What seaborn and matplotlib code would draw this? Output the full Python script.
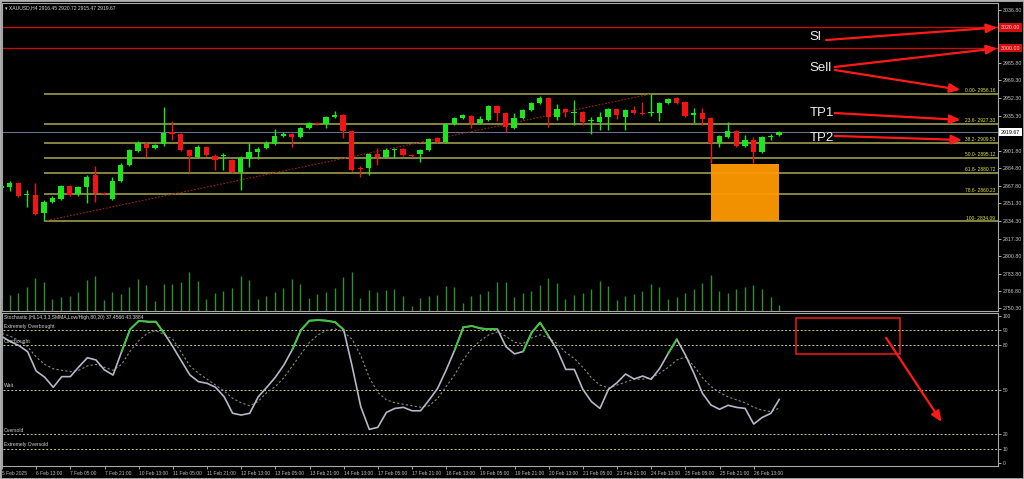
import numpy as np
import pandas as pd
import matplotlib
matplotlib.use("Agg")
import matplotlib.pyplot as plt
import matplotlib.transforms as mtransforms
from matplotlib.patches import Rectangle
import seaborn as sns

# MT4-like dark look
sns.set_style("dark", {"axes.facecolor": "black", "figure.facecolor": "black",
                       "axes.edgecolor": "#a8a8a8", "text.color": "#d0d0d0"})
plt.rcParams["font.family"] = ["Liberation Sans", "DejaVu Sans"]

# -------------------------------
# Data (XAUUSD H4)
# -------------------------------
opens = [2866.0, 2866.9, 2870.8, 2859.3, 2859.3, 2842.0, 2852.5, 2855.4, 2867.9, 2860.2,
         2866.9, 2878.4, 2861.2, 2855.4, 2872.7, 2888.0, 2901.5, 2908.2, 2904.4, 2908.2,
         2919.7, 2917.8, 2902.4, 2895.7, 2905.3, 2896.7, 2896.7, 2892.8, 2881.3, 2893.8,
         2900.5, 2904.4, 2908.2, 2915.9, 2917.8, 2914.9, 2923.6, 2928.3, 2927.4, 2934.1,
         2936.0, 2920.7, 2885.2, 2885.2, 2898.6, 2895.7, 2902.4, 2903.4, 2897.6, 2898.6,
         2902.4, 2913.9, 2910.1, 2927.4, 2933.1, 2935.1, 2928.3, 2931.2, 2944.7, 2937.9,
         2923.6, 2933.1, 2940.8, 2947.5, 2952.3, 2934.1, 2941.8, 2937.9, 2938.9, 2930.3,
         2929.3, 2934.1, 2941.8, 2934.1, 2940.8, 2937.9, 2937.9, 2937.9, 2947.5, 2952.3,
         2948.5, 2936.0, 2937.9, 2933.1, 2909.2, 2914.9, 2920.7, 2906.3, 2912.0, 2900.5,
         2914.9, 2916.45]
highs = [2869.8, 2872.7, 2871.7, 2864.1, 2870.8, 2854.5, 2858.3, 2868.9, 2868.9, 2867.9,
         2878.4, 2887.1, 2862.1, 2876.5, 2890.0, 2903.4, 2911.1, 2910.1, 2908.2, 2943.7,
         2930.3, 2918.8, 2903.4, 2907.2, 2906.3, 2898.6, 2899.6, 2893.8, 2896.7, 2909.2,
         2905.3, 2911.1, 2922.6, 2919.7, 2918.8, 2924.5, 2929.3, 2929.3, 2935.1, 2939.9,
         2937.0, 2921.6, 2887.1, 2899.6, 2904.4, 2904.4, 2904.4, 2904.4, 2898.6, 2903.4,
         2913.9, 2914.9, 2928.3, 2934.1, 2937.0, 2936.0, 2935.1, 2945.6, 2945.6, 2938.9,
         2937.9, 2941.8, 2948.5, 2954.3, 2953.3, 2946.6, 2942.7, 2950.4, 2939.9, 2934.1,
         2938.9, 2942.7, 2942.7, 2941.8, 2944.7, 2948.5, 2956.16, 2948.5, 2952.3, 2953.3,
         2949.5, 2942.7, 2942.7, 2934.1, 2916.8, 2929.3, 2921.6, 2916.8, 2914.9, 2915.9,
         2917.8, 2920.72]
lows = [2864.1, 2863.1, 2857.3, 2847.7, 2840.1, 2834.09, 2851.6, 2854.5, 2858.3, 2858.3,
        2851.6, 2852.5, 2859.3, 2854.5, 2871.7, 2887.1, 2900.5, 2895.7, 2903.4, 2906.3,
        2912.0, 2901.5, 2881.3, 2894.8, 2896.7, 2883.2, 2883.2, 2880.4, 2864.1, 2886.1,
        2893.8, 2903.4, 2907.2, 2914.9, 2905.3, 2913.9, 2922.6, 2926.4, 2923.6, 2933.1,
        2913.9, 2882.3, 2876.5, 2878.4, 2888.0, 2894.8, 2894.8, 2896.7, 2895.7, 2890.9,
        2901.5, 2909.2, 2909.2, 2926.4, 2932.2, 2923.6, 2927.4, 2930.3, 2930.3, 2919.7,
        2922.6, 2932.2, 2939.9, 2946.6, 2924.5, 2931.2, 2934.1, 2926.4, 2926.4, 2917.8,
        2921.6, 2921.6, 2932.2, 2921.6, 2937.0, 2936.0, 2935.1, 2930.3, 2946.6, 2946.6,
        2934.1, 2928.3, 2926.4, 2890.0, 2905.3, 2913.9, 2905.3, 2905.3, 2890.0, 2899.6,
        2912.0, 2915.47]
closes = [2867.9, 2870.8, 2858.3, 2860.2, 2841.0, 2852.5, 2856.4, 2867.9, 2859.3, 2866.9,
          2876.5, 2861.2, 2860.2, 2872.7, 2888.0, 2902.4, 2909.2, 2904.4, 2907.2, 2918.8,
          2917.8, 2902.4, 2896.7, 2905.3, 2897.6, 2892.8, 2897.6, 2881.3, 2894.8, 2900.5,
          2903.4, 2909.2, 2915.9, 2917.8, 2914.9, 2923.6, 2928.3, 2927.4, 2934.1, 2936.0,
          2920.7, 2883.2, 2884.2, 2898.6, 2895.7, 2902.4, 2903.4, 2897.6, 2896.7, 2902.4,
          2913.0, 2910.1, 2927.4, 2933.1, 2936.0, 2928.3, 2932.2, 2944.7, 2937.9, 2924.5,
          2933.1, 2940.8, 2947.5, 2952.3, 2934.1, 2941.8, 2938.9, 2938.9, 2929.3, 2931.2,
          2934.1, 2941.8, 2936.0, 2940.8, 2937.9, 2937.0, 2938.9, 2947.5, 2951.4, 2947.5,
          2935.1, 2937.9, 2932.2, 2909.2, 2915.9, 2920.7, 2906.3, 2912.0, 2900.5, 2914.9,
          2915.9, 2919.67]
volumes = [13, 16, 18, 24, 33, 29, 12, 14, 15, 19, 31, 35, 11, 19, 17, 24, 32, 26, 10, 27,
           27, 29, 39, 30, 12, 18, 20, 23, 35, 31, 12, 15, 19, 23, 32, 27, 13, 17, 19, 23,
           34, 39, 13, 21, 19, 21, 22, 15, 5, 13, 15, 16, 25, 24, 8, 15, 17, 20, 29, 29,
           14, 18, 20, 26, 33, 28, 12, 16, 18, 22, 30, 25, 11, 15, 17, 20, 27, 24, 12, 14,
           18, 22, 28, 36, 20, 18, 22, 24, 26, 22, 14, 6]  # tick volume, thousands

stoch_main = [85.8, 82.4, 79.7, 75.6, 62.5, 58.3, 51.5, 58.7, 58.7, 65.4,
              71.5, 70.0, 63.2, 59.8, 75.6, 90.8, 96.4, 96.0, 96.0, 88.0,
              79.0, 69.3, 59.8, 55.3, 54.2, 51.5, 45.1, 33.9, 32.7, 33.9,
              45.1, 51.5, 58.3, 66.6, 77.2, 90.3, 96.6, 97.0, 96.6, 95.6,
              90.5, 65.5, 38.4, 23.0, 24.4, 34.5, 37.2, 37.9, 35.6, 35.6,
              42.9, 50.8, 63.2, 76.8, 92.1, 93.0, 91.4, 90.8, 90.8, 79.0,
              74.1, 75.7, 88.5, 95.3, 86.0, 76.8, 63.6, 63.6, 50.1, 41.8,
              37.2, 50.1, 54.6, 60.5, 57.1, 59.1, 56.9, 64.3, 74.5, 84.0,
              73.4, 61.0, 47.4, 39.5, 36.6, 39.3, 37.9, 37.2, 26.6, 31.1,
              33.8, 43.3884]
stoch_signal = [88, 86, 83, 79, 72, 67, 64, 63, 62, 63,
                66, 67, 65, 63, 67, 76, 83, 88, 90, 87,
                84, 75, 66, 61, 57, 53, 49, 44, 41, 39,
                42, 48, 52, 58, 66, 74, 82, 87, 90, 91,
                89, 84, 73, 58, 48, 43, 41, 40, 39, 38,
                39, 44, 52, 60, 70, 78, 83, 87, 89, 86,
                82, 81, 85, 87, 85, 81, 75, 71, 65, 58,
                53, 51, 53, 55, 57, 57, 58, 61, 65, 70,
                72, 66, 58, 52, 48, 45, 43, 41, 38, 36,
                35, 37.4566]

tick_labels = ["5 Feb 2025", "6 Feb 13:00", "7 Feb 05:00", "7 Feb 21:00", "10 Feb 13:00",
               "11 Feb 05:00", "11 Feb 21:00", "12 Feb 13:00", "13 Feb 05:00", "13 Feb 21:00",
               "14 Feb 13:00", "17 Feb 05:00", "17 Feb 21:00", "18 Feb 13:00", "19 Feb 05:00",
               "19 Feb 21:00", "20 Feb 13:00", "21 Feb 05:00", "21 Feb 21:00", "24 Feb 13:00",
               "25 Feb 05:00", "25 Feb 21:00", "26 Feb 13:00"]
price_ticks = [3036.80, 2985.80, 2969.30, 2952.30, 2935.30, 2901.80, 2884.80, 2867.80,
               2851.30, 2834.30, 2817.30, 2800.80, 2783.80, 2766.80, 2750.30]
fib_ratios = ["0.00", "23.6", "38.2", "50.0", "61.8", "78.6", "100"]
fib_prices = [2956.16, 2927.33, 2909.53, 2895.12, 2880.72, 2860.23, 2834.09]
sl_price = 3020.00
sell_price = 3000.00
last_price = 2919.67
zone_bars = (83, 91)
zone_prices = (2834.09, 2889.0)
stoch_levels = [90, 80, 50, 20, 10]
stoch_level_names = ["Extremely Overbought", "Overbought", "Wait", "Oversold", "Extremely Oversold"]
stoch_ticks = [100, 90, 80, 50, 20, 10, 0]

df = pd.DataFrame({"open": opens, "high": highs, "low": lows, "close": closes,
                   "volume": np.array(volumes) * 1000})
df["bar"] = np.arange(len(df))

XMIN, XMAX = 0.1, 116.6
SMALL = 3.6

fig = plt.figure(figsize=(10.24, 4.79), dpi=100)
ax = fig.add_axes([2 / 1024, 168 / 479, 996 / 1024, 308 / 479])
ax_s = fig.add_axes([2 / 1024, 13 / 479, 996 / 1024, 153 / 479])

# -------------------------------
# Price panel
# -------------------------------
ax_v = ax.twinx()
ax_v.vlines(df["bar"], 0, df["volume"], colors="#2f8f2f", lw=1.0)
ax_v.set_ylim(0, 308000)
ax_v.axis("off")

ax.set_xlim(XMIN, XMAX)
ax.set_ylim(2747.9, 3043.5)
ax.grid(False)

up = df["close"] >= df["open"]
cols = np.where(up, "#1ee61e", "#f01414")
ax.vlines(df["bar"], df["low"], df["high"], colors=cols, lw=1.0, zorder=4)
body_lo = np.minimum(df["open"], df["close"])
body_h = np.maximum((df["close"] - df["open"]).abs(), 1.0)
ax.bar(df["bar"], body_h, bottom=body_lo, width=0.62, color=cols, linewidth=0, zorder=5)

# fibonacci retracement
i_lo = int(np.argmin(df["low"]))
i_hi = int(np.argmax(df["high"]))
ax.hlines(fib_prices, i_lo, XMAX, colors="#8f8f4a", lw=1.3, zorder=2)
ax.plot([i_lo, i_hi], [df["low"][i_lo], df["high"][i_hi]], color="#a02020",
        lw=0.8, ls=(0, (1.5, 1.5)), zorder=3)
blend = mtransforms.blended_transform_factory(ax.transAxes, ax.transData)
for r, p in zip(fib_ratios, fib_prices):
    ax.text(0.997, p + 0.6, f"{r}- {p:.2f}", transform=blend, ha="right", va="bottom",
            fontsize=3.5, color="#e6e640", zorder=6)

# buy zone
ax.add_patch(Rectangle((zone_bars[0], zone_prices[0]), zone_bars[1] - zone_bars[0],
                       zone_prices[1] - zone_prices[0], facecolor="#ff9a00",
                       edgecolor="none", alpha=0.95, zorder=3))

ax.axhline(sl_price, color="#c01010", lw=1.0, zorder=2)
ax.axhline(sell_price, color="#c01010", lw=1.0, zorder=2)
ax.axhline(last_price, color="#6a7890", lw=0.7, zorder=2)

ax.yaxis.tick_right()
ax.set_yticks(price_ticks)
ax.set_yticklabels([f"{t:.2f}" for t in price_ticks])
ax.tick_params(axis="y", colors="#c8c8c8", labelsize=3.8, length=2, width=0.6, pad=1.5)
ax.tick_params(axis="x", bottom=False, labelbottom=False)
for s in ax.spines.values():
    s.set_color("#a8a8a8")
    s.set_linewidth(0.8)

for p, fc, tc in [(sl_price, "#d01010", "#ffd0d0"), (sell_price, "#d01010", "#ffd0d0"),
                  (last_price, "white", "black")]:
    ax.text(1.003, p, f"{p:.2f}", transform=blend, ha="left", va="center", fontsize=3.8,
            color=tc, clip_on=False,
            bbox=dict(boxstyle="square,pad=0.3", fc=fc, ec="none"))

ax.text(0.003, 0.992, "\u25be XAUUSD,H4 2916.45 2920.72 2915.47 2919.67",
        transform=ax.transAxes, ha="left", va="top", fontsize=SMALL, color="#d8d8d8")

# trade annotations
arrow_kw = dict(arrowstyle="-|>,head_length=0.7,head_width=0.3", color="#ff1a1a",
                lw=1.6, shrinkA=0, shrinkB=0, mutation_scale=9)
txt_x = 94.6
ax.text(txt_x, 3010.9, "Sl", color="#eeeeee", fontsize=9.5, va="center", ha="left")
ax.text(txt_x, 2981.1, "Sell", color="#eeeeee", fontsize=9.5, va="center", ha="left")
ax.text(txt_x, 2938.0, "TP1", color="#eeeeee", fontsize=9.5, va="center", ha="left")
ax.text(txt_x, 2914.0, "TP2", color="#eeeeee", fontsize=9.5, va="center", ha="left")
ax.annotate("", xy=(XMAX - 0.1, sl_price), xytext=(96.5, 3008.0), arrowprops=arrow_kw)
ax.annotate("", xy=(XMAX - 0.1, sell_price), xytext=(97.5, 2982.1), arrowprops=arrow_kw)
ax.annotate("", xy=(112.2, fib_prices[0] + 4), xytext=(97.5, 2979.2), arrowprops=arrow_kw)
ax.annotate("", xy=(112.2, fib_prices[1] + 4), xytext=(97.5, 2937.9), arrowprops=arrow_kw)
ax.annotate("", xy=(112.4, fib_prices[2] + 2.5), xytext=(97.5, 2915.9), arrowprops=arrow_kw)

# -------------------------------
# Stochastic panel
# -------------------------------
ax_s.set_xlim(XMIN, XMAX)
ax_s.set_ylim(-1.8, 101.8)
ax_s.grid(False)
ax_s.hlines(stoch_levels, XMIN, XMAX, colors="#c8c878", lw=0.7, linestyles=(0, (2, 2)))

sns.lineplot(x=df["bar"], y=stoch_signal, ax=ax_s, color="#8a8a8a", lw=0.8,
             linestyle=(0, (2, 2)))
sns.lineplot(x=df["bar"], y=stoch_main, ax=ax_s, color="#b4b8c8", lw=1.2)
for i in range(1, len(stoch_main)):
    if stoch_main[i] >= 80 and stoch_main[i] >= stoch_signal[i]:
        ax_s.plot([i - 1, i], [stoch_main[i - 1], stoch_main[i]], color="#3cc83c", lw=1.3)

blend_s = mtransforms.blended_transform_factory(ax_s.transAxes, ax_s.transData)
for lv, name in zip(stoch_levels, stoch_level_names):
    ax_s.text(0.002, lv + 0.8, name, transform=blend_s, ha="left", va="bottom",
              fontsize=SMALL, color="#d0d0d0")
ax_s.text(0.002, 0.99, "Stochastic (HL14,3,3,SMMA,Low/High,80,20) 37.4566 43.3884",
          transform=ax_s.transAxes, ha="left", va="top", fontsize=SMALL, color="#d8d8d8")

# sell-signal box and arrow
ax_s.add_patch(Rectangle((92.9, 74), 12.2, 24.4, fill=False, ec="#e01818", lw=1.2))
ax_s.annotate("", xy=(110, 28), xytext=(103.5, 85), arrowprops=arrow_kw)

ax_s.set_xlabel("")
ax_s.set_ylabel("")
ax_s.yaxis.tick_right()
ax_s.set_yticks(stoch_ticks)
ax_s.set_yticklabels([str(t) for t in stoch_ticks])
ax_s.set_xticks(df["bar"][::4][:len(tick_labels)])
ax_s.set_xticklabels(tick_labels, ha="left")
ax_s.tick_params(axis="both", colors="#c0c0c0", labelsize=3.5, length=2, width=0.6, pad=1.5)
ax_s.tick_params(axis="x", bottom=True)
for s in ax_s.spines.values():
    s.set_color("#a8a8a8")
    s.set_linewidth(0.8)

fig.patches.append(Rectangle((0, 0), 1, 1, transform=fig.transFigure, fill=False,
                             ec="#b0b0b0", lw=2))

fig.savefig("out.png", dpi=100, facecolor="black")
